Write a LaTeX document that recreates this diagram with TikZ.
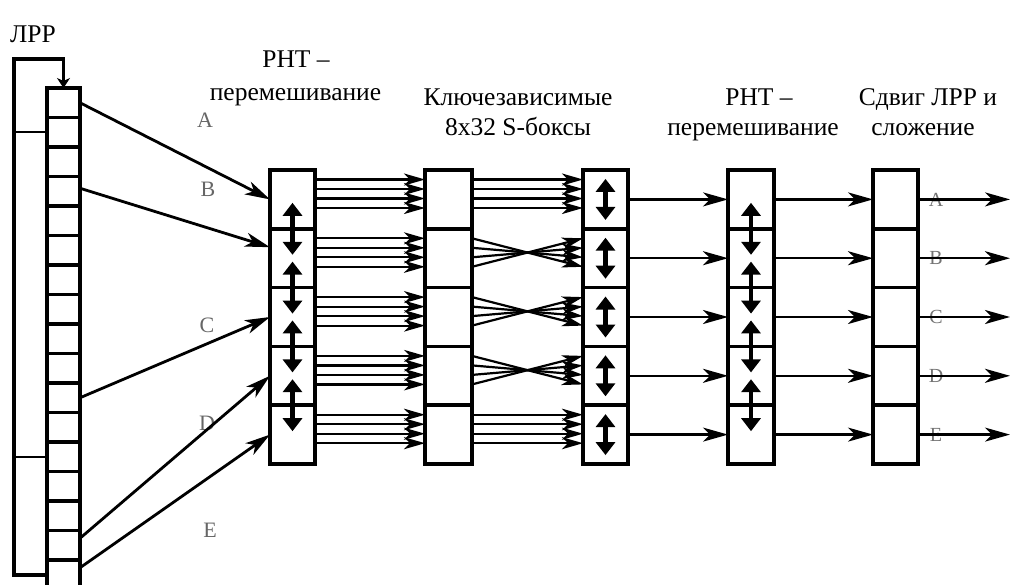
\documentclass[tikz,border=0pt]{standalone}
\usepackage{fontspec}
\setmainfont{Liberation Serif}
\usetikzlibrary{arrows.meta}
\begin{document}
\begin{tikzpicture}[x=1pt,y=-1pt,
  cell/.style={draw,line width=3.5pt,minimum height=58.8pt,inner sep=0pt,outer sep=0pt},
  rcell/.style={draw,line width=3.2pt,minimum width=33pt,minimum height=29.5pt,inner sep=0pt,outer sep=0pt},
  big/.style={line width=2.8pt,-{Stealth[length=25pt,width=14pt,inset=7pt]}},
  thinarr/.style={line width=2.2pt,-{Stealth[length=21pt,width=12pt,inset=6pt]}},
  dbl/.style={line width=4.5pt,{Triangle[length=13pt,width=19pt]}-{Triangle[length=13pt,width=19pt]}},
  head/.style={font=\fontsize{25.5}{28}\selectfont,inner sep=0pt,anchor=base},
  lab/.style={font=\fontsize{22}{24}\selectfont,text=black!60,inner sep=0pt},
  rlab/.style={font=\fontsize{20}{22}\selectfont,text=black!55,inner sep=0pt},
  frame/.style={line width=3.2pt},
]
\useasboundingbox (0,0) rectangle (1011,584);

% register cells
\foreach \i in {1,...,17} {
  \pgfmathsetmacro{\yy}{88+29.5*(\i-0.5)}
  \node[rcell] (r\i) at (63.5,\yy) {};
}
% loop column
\coordinate (loopstart) at (47,575);
\draw[frame,-{Stealth[length=10pt,width=13pt,inset=3pt]}] (loopstart) -- (14,575) -- (14,59) -| (r1.north);
\draw[line width=2.8pt] (14,132) -- (47,132);
\draw[line width=2.8pt] (14,457) -- (47,457);

% columns of cells
\foreach \i in {1,...,5} {
  \pgfmathsetmacro{\yy}{170+58.8*(\i-0.5)}
  \node[cell,minimum width=45pt] (a\i) at (292.5,\yy) {};
  \node[cell,minimum width=47pt] (s\i) at (448.5,\yy) {};
  \node[cell,minimum width=45pt] (b\i) at (605.5,\yy) {};
  \node[cell,minimum width=46pt] (c\i) at (751,\yy) {};
  \node[cell,minimum width=45pt] (f\i) at (895.5,\yy) {};
  \coordinate (o\i) at (1010,\yy);
}

% labels left
\node[lab] (lA) at (205,120) {A};
\node[lab] (lB) at (208,189) {B};
\node[lab] (lC) at (207,325) {C};
\node[lab] (lD) at (207,423) {D};
\node[lab] (lE) at (210,530) {E};

% labels right
\foreach \i/\t in {1/A,2/B,3/C,4/D,5/E} {
  \node[rlab] (rl\i) at ([xshift=18pt]f\i.east) {\t};
}

% diagonal arrows from register
\draw[big] (r1.east) -- (a1.west);
\draw[big] ([yshift=3pt]r4.east) -- ([yshift=11pt]a2.west);
\draw[big] (r11.east) -- (a3.west);
\draw[big] ([yshift=7pt]r16.east) -- (a4.west);
\draw[big] ([yshift=7pt]r17.east) -- (a5.west);

% PHT1 -> S-boxes
\foreach \i in {1,...,5} {
  \foreach \o in {9.5,19,28.5,38} {
    \draw[thinarr] ([yshift=-\o pt]a\i.north east) -- ([yshift=-\o pt]s\i.north west);
  }
}
% S-boxes -> PHT2
\foreach \i in {1,5} {
  \foreach \o in {9.5,19,28.5,38} {
    \draw[thinarr] ([yshift=-\o pt]s\i.north east) -- ([yshift=-\o pt]b\i.north west);
  }
}
\foreach \i in {2,3,4} {
  \foreach \o in {9.5,19,28.5,38} {
    \pgfmathsetmacro{\p}{47.5-\o}
    \draw[thinarr] ([yshift=-\o pt]s\i.north east) -- ([yshift=-\p pt]b\i.north west);
  }
}

% horizontal arrows
\foreach \i in {1,...,5} {
  \draw[big,line width=2.5pt] (b\i.east) -- (c\i.west);
  \draw[big,line width=2.5pt] (c\i.east) -- (f\i.west);
  \draw[big,line width=2.5pt] (f\i.east) -- (o\i);
}

% double arrows
\foreach \i in {1,...,4} {
  \draw[dbl] ([yshift=26pt]a\i.south) -- ([yshift=-26pt]a\i.south);
  \draw[dbl] ([yshift=26pt]c\i.south) -- ([yshift=-26pt]c\i.south);
}
\foreach \i in {1,...,5} {
  \draw[dbl] ([yshift=20.5pt]b\i.center) -- ([yshift=-20.5pt]b\i.center);
}

% headings
\node[head,anchor=base west] (t0) at (10,42) {ЛРР};
\node[head] (t1) at (296,67) {PHT –};
\node[head] (t2) at (295.5,100) {перемешивание};
\node[head] (t3) at (518,105) {Ключезависимые};
\node[head] (t4) at (518,135) {8x32 S-боксы};
\node[head] (t5) at (759,105) {PHT –};
\node[head] (t6) at (753,135) {перемешивание};
\node[head] (t7) at (928,105) {Сдвиг ЛРР и};
\node[head] (t8) at (923,135) {сложение};
\end{tikzpicture}
\end{document}
